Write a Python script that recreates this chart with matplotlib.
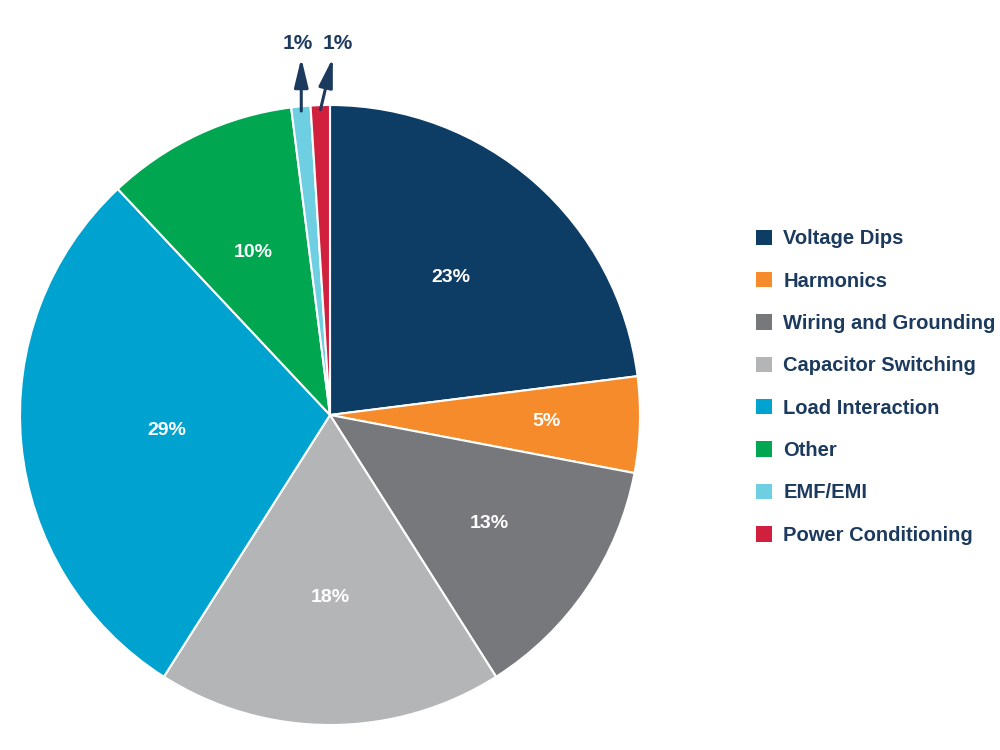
import numpy as np
import matplotlib.pyplot as plt

categories = ["Voltage Dips", "Harmonics", "Wiring and Grounding", "Capacitor Switching",
              "Load Interaction", "Other", "EMF/EMI", "Power Conditioning"]
values = [23, 5, 13, 18, 29, 10, 1, 1]
colors = ["#0d3c64", "#f68b2c", "#77787b", "#b4b5b7", "#00a3cf", "#00a650", "#6ecfe2", "#d11f3e"]
label_dist = [0.59, 0.70, 0.62, 0.59, 0.53, 0.58]  # inner labels only

navy = "#1c3a5e"
plt.rcParams['font.family'] = ['Liberation Sans', 'DejaVu Sans']

fig = plt.figure(figsize=(10, 7.5), dpi=100)
ax = fig.add_axes([0.02, 25 / 750, 0.62, 620 / 750])

wedges, _ = ax.pie(values, colors=colors, startangle=90, counterclock=False,
                   radius=1, wedgeprops=dict(edgecolor="white", linewidth=1.5))
ax.set_xlim(-1, 1)
ax.set_ylim(-1, 1)
ax.set_aspect("equal")
ax.axis("off")

# where the arrows for the tiny slices point, and where their labels sit
arrow_shift = {6: 0.0, 7: 0.04}
text_shift = {6: -0.01, 7: 0.015}

for i, w in enumerate(wedges):
    ang = np.deg2rad((w.theta1 + w.theta2) / 2)
    if i < len(label_dist):
        d = label_dist[i]
        ax.text(d * np.cos(ang), d * np.sin(ang), f"{values[i]}%", color="white",
                fontsize=14, fontweight="bold", ha="center", va="center")
    else:
        x0, y0 = 0.985 * np.cos(ang), 0.985 * np.sin(ang)
        tx = x0 + arrow_shift[i]
        ax.annotate("", xy=(tx, 1.152), xytext=(x0, y0), annotation_clip=False,
                    arrowprops=dict(arrowstyle="-|>,head_length=1.25,head_width=0.3",
                                    mutation_scale=14, color=navy, lw=2.2,
                                    shrinkA=0, shrinkB=0))
        ax.text(tx + text_shift[i], 1.168, f"{values[i]}%", color=navy,
                fontsize=15, fontweight="bold", ha="center", va="bottom")

leg = fig.legend(wedges, categories, loc="upper left", bbox_to_anchor=(0.748, 0.705),
                 frameon=False, fontsize=14.5, handlelength=0.8, handleheight=0.8,
                 handletextpad=0.55, labelspacing=1.16, borderaxespad=0)
for t in leg.get_texts():
    t.set_color(navy)
    t.set_fontweight("bold")
for h in leg.legend_handles:
    h.set_edgecolor("none")

fig.savefig("out.png", dpi=100)
